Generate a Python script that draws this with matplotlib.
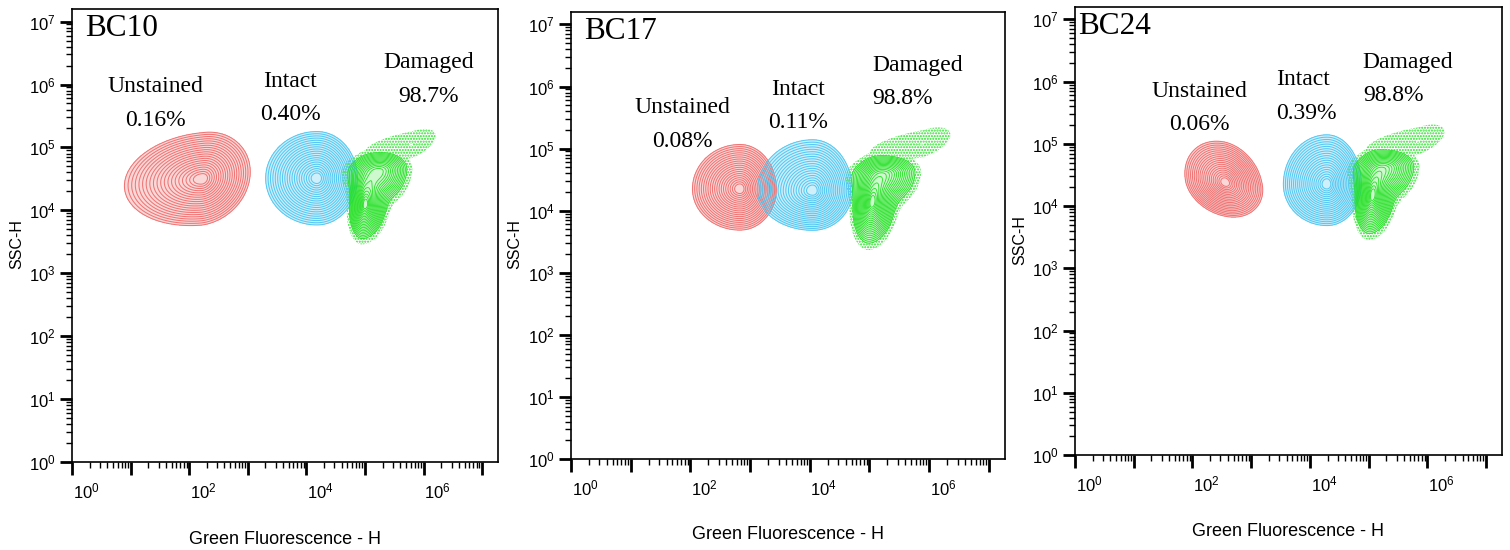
import numpy as np
import matplotlib
matplotlib.use("Agg")
import matplotlib.pyplot as plt
from matplotlib.ticker import FixedLocator, FixedFormatter, NullFormatter
from matplotlib.transforms import ScaledTranslation

# ---- data -------------------------------------------------------------
samples = ["BC10", "BC17", "BC24"]
population_names = ["Unstained", "Intact", "Damaged"]
population_pct = [
    ["0.16%", "0.40%", "98.7%"],
    ["0.08%", "0.11%", "98.8%"],
    ["0.06%", "0.39%", "98.8%"],
]

# Gated populations in log10 units:
# (centre x, centre y, spread left, right, down, up, correlation, weight)
unstained = [
    (2.22, 4.50, 0.50, 0.31, 0.28, 0.28, 0.15, 1.0),
    (2.83, 4.35, 0.30, 0.23, 0.25, 0.27, 0.00, 1.0),
    (2.56, 4.38, 0.26, 0.24, 0.21, 0.25, -0.22, 1.0),
]
intact = [
    (4.18, 4.51, 0.33, 0.26, 0.28, 0.28, 0.00, 1.0),
    (4.05, 4.32, 0.35, 0.25, 0.24, 0.31, 0.00, 1.0),
    (4.29, 4.35, 0.28, 0.22, 0.25, 0.30, 0.00, 1.0),
]
damaged_core = [
    (5.00, 4.08, 0.10, 0.14, 0.20, 0.26, 0.15, 1.0),
    (5.04, 4.11, 0.12, 0.15, 0.24, 0.26, 0.15, 1.0),
    (5.06, 4.14, 0.11, 0.14, 0.22, 0.26, 0.15, 1.0),
]
damaged_shoulder = [
    (5.25, 4.62, 0.22, 0.19, 0.20, 0.12, 0.10, 0.60),
    (5.25, 4.58, 0.22, 0.21, 0.20, 0.12, 0.10, 0.60),
    (5.28, 4.60, 0.22, 0.20, 0.20, 0.12, 0.10, 0.60),
]
damaged_tail = [
    (5.80, 5.05, 0.50, 0.25, 0.16, 0.15, 0.55, 0.03),
    (5.90, 5.08, 0.55, 0.28, 0.16, 0.16, 0.55, 0.03),
    (5.85, 5.05, 0.55, 0.27, 0.16, 0.16, 0.55, 0.03),
]

# label anchors (log10 x, log10 y) and alignment
label_pos = [
    [(1.42, 5.70), (3.72, 5.79), (6.08, 6.08)],
    [(1.86, 5.39), (3.80, 5.69), (5.04, 6.07)],
    [(2.11, 5.58), (3.42, 5.76), (4.90, 6.04)],
]
label_align = [
    ["center", "center", "center"],
    ["center", "center", "left"],
    ["center", "left", "left"],
]
title_x = [0.030, 0.030, 0.007]

x_decades = list(range(0, 8))
y_decades = list(range(0, 8))
x_labelled = [0, 2, 4, 6]

# ---- styling ----------------------------------------------------------
plt.rcParams["font.family"] = ["Liberation Sans", "DejaVu Sans"]
plt.rcParams["mathtext.default"] = "regular"

RED = "#f07575"
BLUE = "#55c8f2"
GREEN = "#22e022"

axes_rects = [
    (72 / 1510, 88 / 550, 426 / 1510, 453 / 550),
    (571 / 1510, 91 / 550, 434 / 1510, 447 / 550),
    (1075 / 1510, 95 / 550, 427 / 1510, 448 / 550),
]

XMAX, YMAX = 7.27, 7.2
gx, gy = np.meshgrid(np.linspace(0, XMAX, 500), np.linspace(0, YMAX, 500))


def component(c):
    cx, cy, sl, sr, sd, su, rho, w = c
    dx, dy = gx - cx, gy - cy
    ux = dx / np.where(dx < 0, sl, sr)
    uy = dy / np.where(dy < 0, sd, su)
    q = (ux ** 2 - 2 * rho * ux * uy + uy ** 2) / (1 - rho ** 2)
    return w * np.exp(-0.5 * q)


radii = np.linspace(0.3, 2.65, 20)
ring_levels = np.sort(np.exp(-0.5 * radii ** 2))
outer = ring_levels[0]

fig = plt.figure(figsize=(15.1, 5.5), dpi=100)

for i, rect in enumerate(axes_rects):
    ax = fig.add_axes(rect)
    ax.set_xscale("log")
    ax.set_yscale("log")
    ax.set_xlim(1, 10 ** XMAX)
    ax.set_ylim(1, 10 ** YMAX)

    X, Y = 10 ** gx, 10 ** gy
    dens = [component(unstained[i]), component(intact[i])]
    dmg = component(damaged_core[i]) + component(damaged_shoulder[i])
    dmg = dmg / dmg.max()
    tail = component(damaged_tail[i])

    for d, col in zip(dens, [RED, BLUE]):
        ax.contourf(X, Y, d, levels=[outer, 1.01], colors=[col], alpha=0.28)
        ax.contour(X, Y, d, levels=ring_levels, colors=[col], linewidths=0.75)

    # sparse events around the damaged population drawn as stipple
    with plt.rc_context({"hatch.color": GREEN, "hatch.linewidth": 1.0}):
        ax.contourf(X, Y, np.maximum(dmg, tail), levels=[0.008, outer],
                    colors="none", hatches=["......"])
    ax.contourf(X, Y, dmg, levels=[outer, 1.01], colors=[GREEN], alpha=0.22)
    ax.contour(X, Y, dmg, levels=ring_levels, colors=[GREEN], linewidths=0.6)

    # axes frame and ticks
    for s in ax.spines.values():
        s.set_linewidth(1.2)
    ax.xaxis.set_major_locator(FixedLocator([10.0 ** k for k in x_decades]))
    ax.yaxis.set_major_locator(FixedLocator([10.0 ** k for k in y_decades]))
    minors = [m * 10.0 ** k for k in range(0, 7) for m in range(2, 10)]
    ax.xaxis.set_minor_locator(FixedLocator(minors))
    ax.yaxis.set_minor_locator(FixedLocator(minors))
    ax.xaxis.set_minor_formatter(NullFormatter())
    ax.yaxis.set_minor_formatter(NullFormatter())
    ax.xaxis.set_major_formatter(FixedFormatter(
        [r"$10^{%d}$" % k if k in x_labelled else "" for k in x_decades]))
    ax.yaxis.set_major_formatter(FixedFormatter([r"$10^{%d}$" % k for k in y_decades]))
    ax.tick_params(which="major", direction="out", length=9, width=2.0,
                   labelsize=12, pad=3)
    ax.tick_params(which="minor", direction="out", length=4, width=1.0)
    ax.tick_params(axis="x", which="major", pad=5)
    shift = ScaledTranslation(14 / 100, 0, fig.dpi_scale_trans)
    for lab in ax.get_xticklabels():
        lab.set_transform(lab.get_transform() + shift)

    ax.set_xlabel("Green Fluorescence - H", fontsize=13)
    ax.xaxis.set_label_coords(0.5, -0.17)
    ax.xaxis.label.set_verticalalignment("center")
    ax.set_ylabel("SSC-H", fontsize=11.5)
    ax.yaxis.set_label_coords(-0.129, 0.48)
    ax.yaxis.label.set_verticalalignment("center")

    ax.text(title_x[i], 0.988, samples[i], transform=ax.transAxes,
            ha="left", va="top", fontsize=22.5, family="Liberation Serif")

    for j in range(3):
        lx, ly = label_pos[i][j]
        ha = label_align[i][j]
        for txt, dy in ((population_names[j], 12), (population_pct[i][j], -12)):
            ax.annotate(txt, (10 ** lx, 10 ** ly), xytext=(0, dy),
                        textcoords="offset points", ha=ha, va="center",
                        fontsize=17, family="Liberation Serif")

fig.savefig("out.png", dpi=100)
